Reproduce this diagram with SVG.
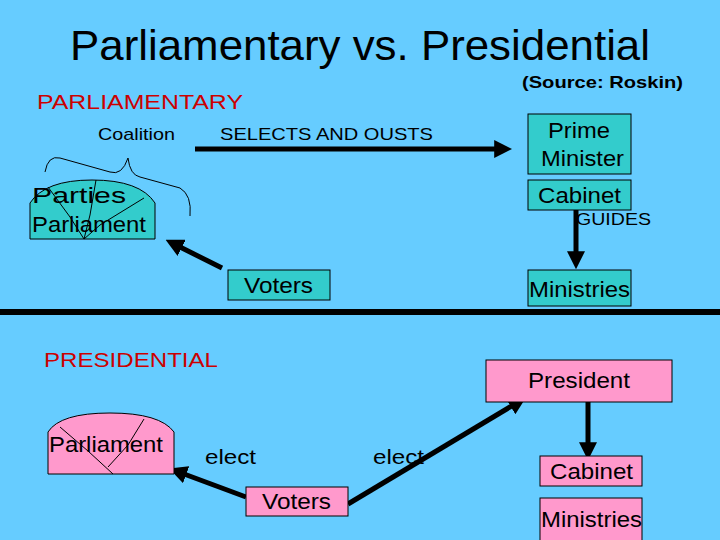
<svg xmlns="http://www.w3.org/2000/svg" width="720" height="540" viewBox="0 0 720 540">
<defs>
<style>
text{font-family:"Liberation Sans",Arial,sans-serif;fill:#000}
.t{fill:#33cccc;stroke:#000;stroke-width:1}
.p{fill:#ff99cc;stroke:#000;stroke-width:1}
.c{stroke:#000;stroke-width:5;fill:none;marker-end:url(#a)}
.thin{stroke:#000;stroke-width:1;fill:none}
</style>
<marker id="a" viewBox="0 0 10 10" refX="6" refY="5" markerWidth="3.6" markerHeight="3.6" orient="auto" markerUnits="strokeWidth"><path d="M0,0L10,5L0,10z" fill="#000"/></marker>
</defs>
<rect width="720" height="540" fill="#66ccff"/>
<text x="70" y="60" font-size="42" textLength="580" lengthAdjust="spacingAndGlyphs">Parliamentary vs. Presidential</text>
<text x="522" y="88" font-size="17" font-weight="bold" textLength="161" lengthAdjust="spacingAndGlyphs">(Source: Roskin)</text>
<text x="37" y="109" font-size="20" style="fill:#cc0000" textLength="206" lengthAdjust="spacingAndGlyphs">PARLIAMENTARY</text>
<text x="44" y="367" font-size="20" style="fill:#cc0000" textLength="174" lengthAdjust="spacingAndGlyphs">PRESIDENTIAL</text>
<text x="98" y="140" font-size="17" textLength="77" lengthAdjust="spacingAndGlyphs">Coalition</text>
<text x="220" y="140" font-size="17" textLength="213" lengthAdjust="spacingAndGlyphs">SELECTS AND OUSTS</text>
<text x="576" y="225" font-size="17" textLength="75" lengthAdjust="spacingAndGlyphs">GUIDES</text>
<text x="205" y="464" font-size="21" textLength="51" lengthAdjust="spacingAndGlyphs">elect</text>
<text x="373" y="464" font-size="21" textLength="51" lengthAdjust="spacingAndGlyphs">elect</text>
<rect x="0" y="309" width="720" height="6" fill="#000"/>
<path class="thin" d="M45,172 Q48,155 60,158 L110,172 Q122,176 128,158 Q130,175 140,177 L180,188 Q192,195 190,216"/>
<g id="connectors">
<line class="c" x1="195" y1="149" x2="505" y2="149"/>
<line class="c" x1="222" y1="268" x2="172" y2="243"/>
<line class="c" x1="576" y1="210" x2="576" y2="262"/>
<line class="c" x1="246" y1="497" x2="176" y2="471"/>
<line class="c" x1="348" y1="504" x2="520" y2="401"/>
<line class="c" x1="588" y1="402" x2="588" y2="453"/>
</g>
<g id="parties">
<path class="t" d="M30,239 L30,203 Q45,180 92,180 Q140,180 155,203 L155,239 Z"/>
<path class="thin" d="M48,187 L70,217 L84,239 M96,180 L90,215 L84,239 M144,198 L100,225 L84,239"/>
<text x="32" y="203" font-size="22" textLength="94" lengthAdjust="spacingAndGlyphs">Parties</text>
<text x="32" y="232" font-size="22" textLength="114" lengthAdjust="spacingAndGlyphs">Parliament</text>
</g>
<g id="pm"><rect class="t" x="528" y="114" width="103" height="60"/><text x="548" y="138" font-size="22" textLength="62" lengthAdjust="spacingAndGlyphs">Prime</text><text x="541" y="166" font-size="22" textLength="83" lengthAdjust="spacingAndGlyphs">Minister</text></g>
<g id="cabinet1"><rect class="t" x="528" y="180" width="103" height="30"/><text x="538" y="203" font-size="22" textLength="83" lengthAdjust="spacingAndGlyphs">Cabinet</text></g>
<g id="ministries1"><rect class="t" x="528" y="270" width="103" height="36"/><text x="529" y="297" font-size="22" textLength="101" lengthAdjust="spacingAndGlyphs">Ministries</text></g>
<g id="voters1"><rect class="t" x="228" y="270" width="102" height="30"/><text x="244" y="293" font-size="22" textLength="69" lengthAdjust="spacingAndGlyphs">Voters</text></g>
<g id="parliament2">
<path class="p" d="M48,474 L48,432 Q60,413 110,413 Q160,413 174,432 L174,474 Z"/>
<path class="thin" d="M60,427 L88,451 L113,474 M144,419 L128,445 L108,467"/>
<text x="49" y="452" font-size="22" textLength="114" lengthAdjust="spacingAndGlyphs">Parliament</text>
</g>
<g id="president"><rect class="p" x="486" y="360" width="186" height="42"/><text x="528" y="388" font-size="22" textLength="102" lengthAdjust="spacingAndGlyphs">President</text></g>
<g id="cabinet2"><rect class="p" x="540" y="456" width="102" height="30"/><text x="550" y="479" font-size="22" textLength="83" lengthAdjust="spacingAndGlyphs">Cabinet</text></g>
<g id="ministries2"><rect class="p" x="540" y="498" width="102" height="44"/><text x="541" y="527" font-size="22" textLength="101" lengthAdjust="spacingAndGlyphs">Ministries</text></g>
<g id="voters2"><rect class="p" x="246" y="487" width="102" height="29"/><text x="262" y="509" font-size="22" textLength="69" lengthAdjust="spacingAndGlyphs">Voters</text></g>
</svg>
